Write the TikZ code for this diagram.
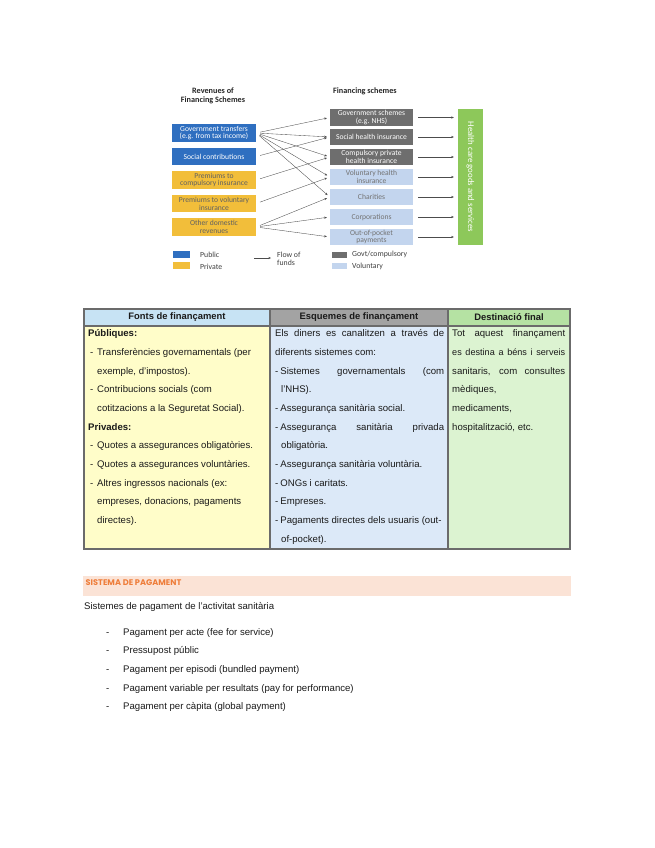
\documentclass[tikz,border=0pt]{standalone}
\usepackage{fontspec}
\setmainfont{Liberation Sans}
\newfontfamily\dfont{Carlito}
\newfontfamily\hfont{Poppins}
\usetikzlibrary{arrows.meta}
\definecolor{pubblue}{HTML}{2F6FC0}
\definecolor{privyel}{HTML}{F2BE3A}
\definecolor{govgray}{HTML}{6E6E6E}
\definecolor{volblue}{HTML}{C3D5EE}
\definecolor{hcgreen}{HTML}{8DC85A}
\definecolor{hA}{HTML}{C7E3F4}
\definecolor{hB}{HTML}{A3A3A3}
\definecolor{hC}{HTML}{B5E2A3}
\definecolor{bA}{HTML}{FFFDC9}
\definecolor{bB}{HTML}{DCE9F8}
\definecolor{bC}{HTML}{DCF3D1}
\definecolor{tborder}{HTML}{6B6B6B}
\definecolor{peach}{HTML}{FBE3D6}
\definecolor{orng}{HTML}{EE7D3A}
\definecolor{txt}{HTML}{1A1A1A}
\tikzset{
  revbox/.style={minimum width=84pt, minimum height=17.5pt, inner sep=0.5pt, align=center, font=\dfont\fontsize{7.6}{7.8}\selectfont},
  pub/.style={revbox, fill=pubblue, text=white},
  priv/.style={revbox, fill=privyel, text=black!62},
  schbox/.style={minimum width=83pt, minimum height=16.5pt, inner sep=0.5pt, align=center, font=\dfont\fontsize{7.6}{7.8}\selectfont},
  gov/.style={schbox, fill=govgray, text=white},
  vol/.style={schbox, fill=volblue, text=black!55},
  flow/.style={-{Stealth[length=2.6pt,width=2.2pt]}, draw=black!70, line width=0.35pt},
  lbl/.style={anchor=west, inner sep=0, font=\dfont\fontsize{7.8}{8.2}\selectfont, text=black!75, align=left},
  ttl/.style={inner sep=0, font=\dfont\bfseries\fontsize{8.2}{9}\selectfont, text=black!85, align=center},
  tx/.style={anchor=base west, yshift=-3.4pt, inner sep=0, font=\fontsize{9.6}{11}\selectfont, text=txt},
  th/.style={inner sep=0, font=\bfseries\fontsize{9.4}{11}\selectfont, text=txt},
  cell/.style={draw=tborder, line width=1.1pt},
}
\newcommand{\dsh}{\makebox[7pt][l]{-}}
\begin{document}
\begin{tikzpicture}[x=1pt,y=-1pt]
\useasboundingbox[fill=white] (0,0) rectangle (655,848);
% ---------- diagram ----------
\node[ttl] (t1) at (213,95.5) {Revenues of\\Financing Schemes};
\node[ttl, anchor=west] (t2) at (333,91) {Financing schemes};

\node[pub]  (L1) at (214,133)   {Government transfers\\(e.g. from tax income)};
\node[pub]  (L2) at (214,156.5) {Social contributions};
\node[priv] (L3) at (214,180)   {Premiums to\\compulsory insurance};
\node[priv] (L4) at (214,203.5) {Premiums to voluntary\\insurance};
\node[priv] (L5) at (214,227)   {Other domestic\\revenues};

\node[gov] (M1) at (371.5,117.5) {Government schemes\\(e.g. NHS)};
\node[gov] (M2) at (371.5,137)   {Social health insurance};
\node[gov] (M3) at (371.5,157)   {Compulsory private\\health insurance};
\node[vol] (M4) at (371.5,177)   {Voluntary health\\insurance};
\node[vol] (M5) at (371.5,197)   {Charities};
\node[vol] (M6) at (371.5,217)   {Corporations};
\node[vol] (M7) at (371.5,237)   {Out-of-pocket\\payments};

\node[fill=hcgreen, minimum width=25pt, minimum height=136pt, inner sep=0] (HC) at (470.5,177) {};
\node[rotate=-90, text=white, inner sep=0, font=\dfont\fontsize{8.8}{10}\selectfont] (HCt) at (HC.center) {Health care goods and services};

\foreach \a/\b in {L1/M1,L1/M2,L1/M3,L1/M4,L1/M5,L2/M2,L3/M3,L4/M4,L5/M5,L5/M6,L5/M7}
  \draw[flow, shorten <=4pt, shorten >=3pt] (\a.east) -- (\b.west);
\foreach \m in {M1,M2,M3,M4,M5,M6,M7}
  \draw[flow, shorten <=5pt, shorten >=4pt] (\m.east) -- (\m.east -| HC.west);

% legend
\node[fill=pubblue, minimum width=17pt, minimum height=6.5pt, inner sep=0] (g1) at (181.5,254.5) {};
\node[fill=privyel, minimum width=17pt, minimum height=6.5pt, inner sep=0] (g2) at (181.5,265.5) {};
\node[lbl] (g1t) at (200,255) {Public};
\node[lbl] (g2t) at (200,266.5) {Private};
\coordinate (fa) at (254,258);
\coordinate (fb) at (271,258);
\draw[flow] (fa) -- (fb);
\node[lbl] (g3t) at (277,259) {Flow of\\funds};
\node[fill=govgray, minimum width=15pt, minimum height=6pt, inner sep=0] (g4) at (339.5,254.5) {};
\node[fill=volblue, minimum width=15pt, minimum height=6pt, inner sep=0] (g5) at (339.5,265.5) {};
\node[lbl] (g4t) at (352,254.5) {Govt/compulsory};
\node[lbl] (g5t) at (352,266) {Voluntary};

% ---------- table ----------
\path[fill=hA] (84,309) rectangle (270,326);
\path[fill=hB] (270,309) rectangle (448,326);
\path[fill=hC] (448,309) rectangle (570,326);
\path[fill=bA] (84,326) rectangle (270,549);
\path[fill=bB] (270,326) rectangle (448,549);
\path[fill=bC] (448,326) rectangle (570,549);
\draw[cell] (84,309) rectangle (570,549);
\draw[cell] (84,326) -- (570,326);
\draw[cell] (270,309) -- (270,549);
\draw[cell] (448,309) -- (448,549);

\node[th] (h1) at (177,317.5) {Fonts de finançament};
\node[th] (h2) at (359,317.5) {Esquemes de finançament};
\node[th] (h3) at (509,317.5) {Destinació final};

% column 1
\node[tx] (a1)  at (88,333.5) {\textbf{Públiques:}};
\node[tx] (a2)  at (90,352)   {\dsh Transferències governamentals (per};
\node[tx] (a3)  at (97,371)   {exemple, d’impostos).};
\node[tx] (a4)  at (90,389.5) {\dsh Contribucions socials (com};
\node[tx] (a5)  at (97,408)   {cotitzacions a la Seguretat Social).};
\node[tx] (a6)  at (88,427)   {\textbf{Privades:}};
\node[tx] (a7)  at (90,445.5) {\dsh Quotes a assegurances obligatòries.};
\node[tx] (a8)  at (90,464)   {\dsh Quotes a assegurances voluntàries.};
\node[tx] (a9)  at (90,483)   {\dsh Altres ingressos nacionals (ex:};
\node[tx] (a10) at (97,501.5) {empreses, donacions, pagaments};
\node[tx] (a11) at (97,520)   {directes).};

% column 2
\node[tx] (b1)  at (275,333.5) {\makebox[169pt][s]{Els diners es canalitzen a través de}};
\node[tx] (b2)  at (275,352)   {diferents sistemes com:};
\node[tx] (b3)  at (275,371)   {\makebox[169pt][s]{-\hspace{2pt}Sistemes governamentals (com}};
\node[tx] (b4)  at (281,389.5) {l’NHS).};
\node[tx] (b5)  at (275,408)   {-\hspace{2pt}Assegurança sanitària social.};
\node[tx] (b6)  at (275,427)   {\makebox[169pt][s]{-\hspace{2pt}Assegurança sanitària privada}};
\node[tx] (b7)  at (281,445.5) {obligatòria.};
\node[tx] (b8)  at (275,464)   {-\hspace{2pt}Assegurança sanitària voluntària.};
\node[tx] (b9)  at (275,483)   {-\hspace{2pt}ONGs i caritats.};
\node[tx] (b10) at (275,501.5) {-\hspace{2pt}Empreses.};
\node[tx] (b11) at (275,520)   {-\hspace{2pt}Pagaments directes dels usuaris (out-};
\node[tx] (b12) at (281,539)   {of-pocket).};

% column 3
\node[tx] (c1) at (452,333.5) {\makebox[113pt][s]{Tot aquest finançament}};
\node[tx] (c2) at (452,352)   {\makebox[113pt][s]{\fontsize{9.1}{11}\selectfont es destina a béns i serveis}};
\node[tx] (c3) at (452,371)   {\makebox[113pt][s]{sanitaris, com consultes}};
\node[tx] (c4) at (452,389.5) {mèdiques,};
\node[tx] (c5) at (452,408)   {medicaments,};
\node[tx] (c6) at (452,427)   {hospitalització, etc.};

% ---------- payment section ----------
\path[fill=peach] (83,576) rectangle (571,596);
\node[anchor=west, inner sep=0, text=orng, font=\hfont\bfseries\fontsize{8.2}{9}\selectfont] (ps) at (85.5,583) {SISTEMA DE PAGAMENT};
\node[tx] (p0) at (84,606) {Sistemes de pagament de l’activitat sanitària};
\foreach \y/\t [count=\i] in {632/{Pagament per acte (fee for service)},
                              650.5/{Pressupost públic},
                              669/{Pagament per episodi (bundled payment)},
                              688/{Pagament variable per resultats (pay for performance)},
                              706/{Pagament per càpita (global payment)}}{
  \node[tx] (pd\i) at (106,\y) {-};
  \node[tx] (pt\i) at (123,\y) {\t};
}
\end{tikzpicture}
\end{document}
